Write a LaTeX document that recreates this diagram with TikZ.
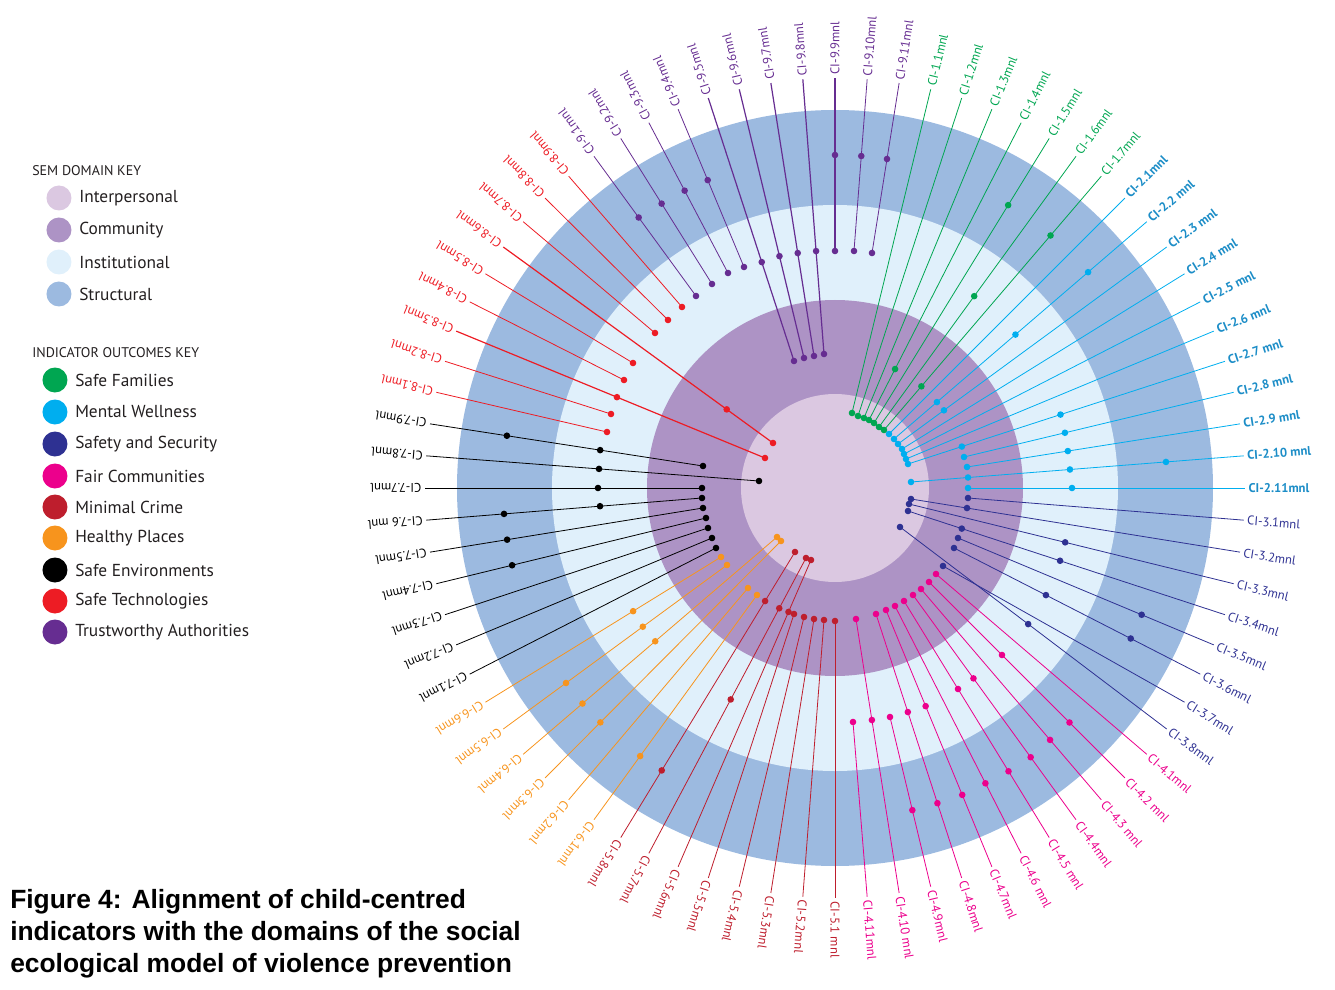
\documentclass[tikz,border=0pt]{standalone}
\usepackage{fontspec}
\setmainfont{PT Sans}
\newfontfamily\capfont{Liberation Sans}
\usetikzlibrary{calc}
\definecolor{semstruct}{RGB}{156,186,224}
\definecolor{seminst}{RGB}{224,240,251}
\definecolor{semcomm}{RGB}{173,147,197}
\definecolor{seminter}{RGB}{219,200,225}
\definecolor{sfgreen}{RGB}{0,166,81}
\definecolor{mwcyan}{RGB}{0,174,239}
\definecolor{mwtext}{RGB}{28,141,199}
\definecolor{ssnavy}{RGB}{46,49,146}
\definecolor{fcmagenta}{RGB}{236,0,140}
\definecolor{mccrimson}{RGB}{190,30,45}
\definecolor{hporange}{RGB}{247,148,29}
\definecolor{stred}{RGB}{237,28,36}
\definecolor{tapurple}{RGB}{102,45,145}
\definecolor{keygray}{RGB}{35,31,32}
\tikzset{
  lbl/.style={anchor=west, inner sep=2.5pt, text=#1, font=\fontsize{9.5}{10}\selectfont},
  link/.style={draw=#1, line width=0.6pt},
  keydot/.style={circle, minimum size=18.75pt, inner sep=0pt, fill=#1},
  keytext/.style={anchor=west, inner sep=0pt, text=keygray, font=\fontsize{13}{15}\selectfont},
  keyhead/.style={anchor=west, inner sep=0pt, text=keygray, font=\fontsize{10.5}{12}\selectfont}
}

\begin{document}
\begin{tikzpicture}[x=0.75pt, y=0.75pt]
    \useasboundingbox (-835,-501) rectangle (500,488);

    \fill[semstruct] (0,0) circle (378);
    \fill[seminst]   (0,0) circle (283);
    \fill[semcomm]   (0,0) circle (188);
    \fill[seminter]  (0,0) circle (94);

    \coordinate (s1-1) at (17,75);
    \coordinate (s1-2) at (23,72);
    \coordinate (s1-3) at (29,70);
    \coordinate (s1-4) at (34,68);
    \coordinate (s1-5) at (39,65);
    \coordinate (s1-6) at (44,61);
    \coordinate (s1-7) at (49,58);
    \node[lbl=sfgreen, rotate=76.5] (l1-1) at (76.5:410) {CI-1.1mnl};
    \node[lbl=sfgreen, rotate=72]   (l1-2) at (72:410)   {CI-1.2mnl};
    \node[lbl=sfgreen, rotate=67.5] (l1-3) at (67.5:410) {CI-1.3mnl};
    \node[lbl=sfgreen, rotate=63]   (l1-4) at (63:410)   {CI-1.4mnl};
    \node[lbl=sfgreen, rotate=58.5] (l1-5) at (58.5:410) {CI-1.5mnl};
    \node[lbl=sfgreen, rotate=54]   (l1-6) at (54:410)   {CI-1.6mnl};
    \node[lbl=sfgreen, rotate=49.5] (l1-7) at (49.5:410) {CI-1.7mnl};
    \draw[link=sfgreen] (s1-1) -- (l1-1.west);
    \draw[link=sfgreen] (s1-2) -- (l1-2.west);
    \draw[link=sfgreen] (s1-3) -- (l1-3.west);
    \draw[link=sfgreen] (s1-4) -- (l1-4.west);
    \draw[link=sfgreen] (s1-5) -- (l1-5.west);
    \draw[link=sfgreen] (s1-6) -- (l1-6.west);
    \draw[link=sfgreen] (s1-7) -- (l1-7.west);

    \coordinate (s2-1) at (54,54);
    \coordinate (s2-2) at (59,49);
    \coordinate (s2-3) at (63,44);
    \coordinate (s2-4) at (67,39);
    \coordinate (s2-5) at (69,34);
    \coordinate (s2-6) at (71,29);
    \coordinate (s2-7) at (73,24);
    \coordinate (s2-8) at (129,31);
    \coordinate (s2-9) at (132,21);
    \coordinate (s2-10) at (76,6);
    \coordinate (s2-11) at (133,0);
    \node[lbl=mwtext, font=\fontsize{9.5}{10}\selectfont\bfseries, rotate=45]   (l2-1) at (45:410)   {CI-2.1mnl};
    \node[lbl=mwtext, font=\fontsize{9.5}{10}\selectfont\bfseries, rotate=40.5] (l2-2) at (40.5:410) {CI-2.2 mnl};
    \node[lbl=mwtext, font=\fontsize{9.5}{10}\selectfont\bfseries, rotate=36]   (l2-3) at (36:410)   {CI-2.3 mnl};
    \node[lbl=mwtext, font=\fontsize{9.5}{10}\selectfont\bfseries, rotate=31.5] (l2-4) at (31.5:410) {CI-2.4 mnl};
    \node[lbl=mwtext, font=\fontsize{9.5}{10}\selectfont\bfseries, rotate=27]   (l2-5) at (27:410)   {CI-2.5 mnl};
    \node[lbl=mwtext, font=\fontsize{9.5}{10}\selectfont\bfseries, rotate=22.5] (l2-6) at (22.5:410) {CI-2.6 mnl};
    \node[lbl=mwtext, font=\fontsize{9.5}{10}\selectfont\bfseries, rotate=18]   (l2-7) at (18:410)   {CI-2.7 mnl};
    \node[lbl=mwtext, font=\fontsize{9.5}{10}\selectfont\bfseries, rotate=13.5] (l2-8) at (13.5:410) {CI-2.8 mnl};
    \node[lbl=mwtext, font=\fontsize{9.5}{10}\selectfont\bfseries, rotate=9]    (l2-9) at (9:410)    {CI-2.9 mnl};
    \node[lbl=mwtext, font=\fontsize{9.5}{10}\selectfont\bfseries, rotate=4.5]  (l2-10) at (4.5:410) {CI-2.10 mnl};
    \node[lbl=mwtext, font=\fontsize{9.5}{10}\selectfont\bfseries, rotate=0]    (l2-11) at (0:410)   {CI-2.11mnl};
    \draw[link=mwcyan] (s2-1) -- (l2-1.west);
    \draw[link=mwcyan] (s2-2) -- (l2-2.west);
    \draw[link=mwcyan] (s2-3) -- (l2-3.west);
    \draw[link=mwcyan] (s2-4) -- (l2-4.west);
    \draw[link=mwcyan] (s2-5) -- (l2-5.west);
    \draw[link=mwcyan] (s2-6) -- (l2-6.west);
    \draw[link=mwcyan] (s2-7) -- (l2-7.west);
    \draw[link=mwcyan] (s2-8) -- (l2-8.west);
    \draw[link=mwcyan] (s2-9) -- (l2-9.west);
    \draw[link=mwcyan] (s2-10) -- (l2-10.west);
    \draw[link=mwcyan] (s2-11) -- (l2-11.west);

    \coordinate (s3-1) at (133,-10);
    \coordinate (s3-2) at (76,-11);
    \coordinate (s3-3) at (74,-16);
    \coordinate (s3-4) at (73,-23);
    \coordinate (s3-5) at (123,-50);
    \coordinate (s3-6) at (119,-60);
    \coordinate (s3-7) at (108,-78);
    \coordinate (s3-8) at (65,-39);
    \node[lbl=ssnavy, rotate=-4.5]  (l3-1) at (-4.5:410)  {CI-3.1mnl};
    \node[lbl=ssnavy, rotate=-9]    (l3-2) at (-9:410)    {CI-3.2mnl};
    \node[lbl=ssnavy, rotate=-13.5] (l3-3) at (-13.5:410) {CI-3.3mnl};
    \node[lbl=ssnavy, rotate=-18]   (l3-4) at (-18:410)   {CI-3.4mnl};
    \node[lbl=ssnavy, rotate=-22.5] (l3-5) at (-22.5:410) {CI-3.5mnl};
    \node[lbl=ssnavy, rotate=-27]   (l3-6) at (-27:410)   {CI-3.6mnl};
    \node[lbl=ssnavy, rotate=-31.5] (l3-7) at (-31.5:410) {CI-3.7mnl};
    \node[lbl=ssnavy, rotate=-36]   (l3-8) at (-36:410)   {CI-3.8mnl};
    \draw[link=ssnavy] (s3-1) -- (l3-1.west);
    \draw[link=ssnavy] (s3-2) -- (l3-2.west);
    \draw[link=ssnavy] (s3-3) -- (l3-3.west);
    \draw[link=ssnavy] (s3-4) -- (l3-4.west);
    \draw[link=ssnavy] (s3-5) -- (l3-5.west);
    \draw[link=ssnavy] (s3-6) -- (l3-6.west);
    \draw[link=ssnavy] (s3-7) -- (l3-7.west);
    \draw[link=ssnavy] (s3-8) -- (l3-8.west);

    \coordinate (s4-1) at (101,-86);
    \coordinate (s4-2) at (94,-94);
    \coordinate (s4-3) at (86,-101);
    \coordinate (s4-4) at (78,-107);
    \coordinate (s4-5) at (69,-113);
    \coordinate (s4-6) at (60,-118);
    \coordinate (s4-7) at (51,-122);
    \coordinate (s4-8) at (41,-126);
    \coordinate (s4-9) at (55,-229);
    \coordinate (s4-10) at (21,-131);
    \coordinate (s4-11) at (18,-234);
    \node[lbl=fcmagenta, rotate=-40.5] (l4-1) at (-40.5:410) {CI-4.1mnl};
    \node[lbl=fcmagenta, rotate=-45]   (l4-2) at (-45:410)   {CI-4.2 mnl};
    \node[lbl=fcmagenta, rotate=-49.5] (l4-3) at (-49.5:410) {CI-4.3 mnl};
    \node[lbl=fcmagenta, rotate=-54]   (l4-4) at (-54:410)   {CI-4.4mnl};
    \node[lbl=fcmagenta, rotate=-58.5] (l4-5) at (-58.5:410) {CI-4.5 mnl};
    \node[lbl=fcmagenta, rotate=-63]   (l4-6) at (-63:410)   {CI-4.6 mnl};
    \node[lbl=fcmagenta, rotate=-67.5] (l4-7) at (-67.5:410) {CI-4.7mnl};
    \node[lbl=fcmagenta, rotate=-72]   (l4-8) at (-72:410)   {CI-4.8mnl};
    \node[lbl=fcmagenta, rotate=-76.5] (l4-9) at (-76.5:410) {CI-4.9mnl};
    \node[lbl=fcmagenta, rotate=-81]   (l4-10) at (-81:410)  {CI-4.10 mnl};
    \node[lbl=fcmagenta, rotate=-85.5] (l4-11) at (-85.5:410) {CI-4.11mnl};
    \draw[link=fcmagenta] (s4-1) -- (l4-1.west);
    \draw[link=fcmagenta] (s4-2) -- (l4-2.west);
    \draw[link=fcmagenta] (s4-3) -- (l4-3.west);
    \draw[link=fcmagenta] (s4-4) -- (l4-4.west);
    \draw[link=fcmagenta] (s4-5) -- (l4-5.west);
    \draw[link=fcmagenta] (s4-6) -- (l4-6.west);
    \draw[link=fcmagenta] (s4-7) -- (l4-7.west);
    \draw[link=fcmagenta] (s4-8) -- (l4-8.west);
    \draw[link=fcmagenta] (s4-9) -- (l4-9.west);
    \draw[link=fcmagenta] (s4-10) -- (l4-10.west);
    \draw[link=fcmagenta] (s4-11) -- (l4-11.west);

    \coordinate (s5-1) at (0,-133);
    \coordinate (s5-2) at (-11,-132);
    \coordinate (s5-3) at (-21,-131);
    \coordinate (s5-4) at (-31,-129);
    \coordinate (s5-5) at (-41,-126);
    \coordinate (s5-6) at (-24,-72);
    \coordinate (s5-7) at (-29,-70);
    \coordinate (s5-8) at (-40,-64);
    \node[lbl=mccrimson, rotate=-90]    (l5-1) at (-90:410)    {CI-5.1 mnl};
    \node[lbl=mccrimson, rotate=-94.5]  (l5-2) at (-94.5:410)  {CI-5.2mnl};
    \node[lbl=mccrimson, rotate=-99]    (l5-3) at (-99:410)    {CI-5.3mnl};
    \node[lbl=mccrimson, rotate=-103.5] (l5-4) at (-103.5:410) {CI-5.4mnl};
    \node[lbl=mccrimson, rotate=-108]   (l5-5) at (-108:410)   {CI-5.5mnl};
    \node[lbl=mccrimson, rotate=-112.5] (l5-6) at (-112.5:410) {CI-5.6mnl};
    \node[lbl=mccrimson, rotate=-117]   (l5-7) at (-117:410)   {CI-5.7mnl};
    \node[lbl=mccrimson, rotate=-121.5] (l5-8) at (-121.5:410) {CI-5.8mnl};
    \draw[link=mccrimson] (s5-1) -- (l5-1.west);
    \draw[link=mccrimson] (s5-2) -- (l5-2.west);
    \draw[link=mccrimson] (s5-3) -- (l5-3.west);
    \draw[link=mccrimson] (s5-4) -- (l5-4.west);
    \draw[link=mccrimson] (s5-5) -- (l5-5.west);
    \draw[link=mccrimson] (s5-6) -- (l5-6.west);
    \draw[link=mccrimson] (s5-7) -- (l5-7.west);
    \draw[link=mccrimson] (s5-8) -- (l5-8.west);

    \coordinate (s6-1) at (-78,-107);
    \coordinate (s6-2) at (-87,-100);
    \coordinate (s6-3) at (-54,-53);
    \coordinate (s6-4) at (-58,-49);
    \coordinate (s6-5) at (-108,-77);
    \coordinate (s6-6) at (-114,-69);
    \node[lbl=hporange, rotate=234]   (l6-1) at (234:410)   {CI-6.1mnl};
    \node[lbl=hporange, rotate=229.5] (l6-2) at (229.5:410) {CI-6.2mnl};
    \node[lbl=hporange, rotate=225]   (l6-3) at (225:410)   {CI-6.3mnl};
    \node[lbl=hporange, rotate=220.5] (l6-4) at (220.5:410) {CI-6.4mnl};
    \node[lbl=hporange, rotate=216]   (l6-5) at (216:410)   {CI-6.5mnl};
    \node[lbl=hporange, rotate=211.5] (l6-6) at (211.5:410) {CI-6.6mnl};
    \draw[link=hporange] (s6-1) -- (l6-1.west);
    \draw[link=hporange] (s6-2) -- (l6-2.west);
    \draw[link=hporange] (s6-3) -- (l6-3.west);
    \draw[link=hporange] (s6-4) -- (l6-4.west);
    \draw[link=hporange] (s6-5) -- (l6-5.west);
    \draw[link=hporange] (s6-6) -- (l6-6.west);

    \coordinate (s7-1) at (-119,-60);
    \coordinate (s7-2) at (-123,-50);
    \coordinate (s7-3) at (-127,-40);
    \coordinate (s7-4) at (-129,-30);
    \coordinate (s7-5) at (-132,-20);
    \coordinate (s7-6) at (-133,-10);
    \coordinate (s7-7) at (-133,0);
    \coordinate (s7-8) at (-76,7);
    \coordinate (s7-9) at (-132,22);
    \node[lbl=black, rotate=207]   (l7-1) at (207:410)   {CI-7.1mnl};
    \node[lbl=black, rotate=202.5] (l7-2) at (202.5:410) {CI-7.2mnl};
    \node[lbl=black, rotate=198]   (l7-3) at (198:410)   {CI-7.3mnl};
    \node[lbl=black, rotate=193.5] (l7-4) at (193.5:410) {CI-7.4mnl};
    \node[lbl=black, rotate=189]   (l7-5) at (189:410)   {CI-7.5mnl};
    \node[lbl=black, rotate=184.5] (l7-6) at (184.5:410) {CI-7.6 mnl};
    \node[lbl=black, rotate=180]   (l7-7) at (180:410)   {CI-7.7mnl};
    \node[lbl=black, rotate=175.5] (l7-8) at (175.5:410) {CI-7.8mnl};
    \node[lbl=black, rotate=171]   (l7-9) at (171:410)   {CI-7.9mnl};
    \draw[link=black] (s7-1) -- (l7-1.west);
    \draw[link=black] (s7-2) -- (l7-2.west);
    \draw[link=black] (s7-3) -- (l7-3.west);
    \draw[link=black] (s7-4) -- (l7-4.west);
    \draw[link=black] (s7-5) -- (l7-5.west);
    \draw[link=black] (s7-6) -- (l7-6.west);
    \draw[link=black] (s7-7) -- (l7-7.west);
    \draw[link=black] (s7-8) -- (l7-8.west);
    \draw[link=black] (s7-9) -- (l7-9.west);

    \coordinate (s8-1) at (-228,56);
    \coordinate (s8-2) at (-224,74);
    \coordinate (s8-3) at (-70,30);
    \coordinate (s8-4) at (-211,108);
    \coordinate (s8-5) at (-202,125);
    \coordinate (s8-6) at (-62,45);
    \coordinate (s8-7) at (-180,155);
    \coordinate (s8-8) at (-167,168);
    \coordinate (s8-9) at (-153,181);
    \node[lbl=stred, rotate=166.5] (l8-1) at (166.5:410) {CI-8.1mnl};
    \node[lbl=stred, rotate=162]   (l8-2) at (162:410)   {CI-8.2mnl};
    \node[lbl=stred, rotate=157.5] (l8-3) at (157.5:410) {CI-8.3mnl};
    \node[lbl=stred, rotate=153]   (l8-4) at (153:410)   {CI-8.4mnl};
    \node[lbl=stred, rotate=148.5] (l8-5) at (148.5:410) {CI-8.5mnl};
    \node[lbl=stred, rotate=144]   (l8-6) at (144:410)   {CI-8.6mnl};
    \node[lbl=stred, rotate=139.5] (l8-7) at (139.5:410) {CI-8.7mnl};
    \node[lbl=stred, rotate=135]   (l8-8) at (135:410)   {CI-8.8mnl};
    \node[lbl=stred, rotate=130.5] (l8-9) at (130.5:410) {CI-8.9mnl};
    \draw[link=stred] (s8-1) -- (l8-1.west);
    \draw[link=stred] (s8-2) -- (l8-2.west);
    \draw[link=stred, line width=0.9pt] (s8-3) -- (l8-3.west);
    \draw[link=stred] (s8-4) -- (l8-4.west);
    \draw[link=stred] (s8-5) -- (l8-5.west);
    \draw[link=stred, line width=0.9pt] (s8-6) -- (l8-6.west);
    \draw[link=stred] (s8-7) -- (l8-7.west);
    \draw[link=stred] (s8-8) -- (l8-8.west);
    \draw[link=stred] (s8-9) -- (l8-9.west);

    \coordinate (s9-1) at (-139,192);
    \coordinate (s9-2) at (-123,204);
    \coordinate (s9-3) at (-107,215);
    \coordinate (s9-4) at (-91,221);
    \coordinate (s9-5) at (-41,127);
    \coordinate (s9-6) at (-31,130);
    \coordinate (s9-7) at (-21,132);
    \coordinate (s9-8) at (-11,134);
    \coordinate (s9-9) at (0,237);
    \coordinate (s9-10) at (19,237);
    \coordinate (s9-11) at (37,235);
    \node[lbl=tapurple, rotate=126]   (l9-1) at (126:410)   {CI-9.1mnl};
    \node[lbl=tapurple, rotate=121.5] (l9-2) at (121.5:410) {CI-9.2mnl};
    \node[lbl=tapurple, rotate=117]   (l9-3) at (117:410)   {CI-9.3mnl};
    \node[lbl=tapurple, rotate=112.5] (l9-4) at (112.5:410) {CI-9.4mnl};
    \node[lbl=tapurple, rotate=108]   (l9-5) at (108:410)   {CI-9.5mnl};
    \node[lbl=tapurple, rotate=103.5] (l9-6) at (103.5:410) {CI-9.6mnl};
    \node[lbl=tapurple, rotate=99]    (l9-7) at (99:410)    {CI-9.7mnl};
    \node[lbl=tapurple, rotate=94.5]  (l9-8) at (94.5:410)  {CI-9.8mnl};
    \node[lbl=tapurple, rotate=90]    (l9-9) at (90:410)    {CI-9.9mnl};
    \node[lbl=tapurple, rotate=85.5]  (l9-10) at (85.5:410) {CI-9.10mnl};
    \node[lbl=tapurple, rotate=81]    (l9-11) at (81:410)   {CI-9.11mnl};
    \draw[link=tapurple] (s9-1) -- (l9-1.west);
    \draw[link=tapurple] (s9-2) -- (l9-2.west);
    \draw[link=tapurple] (s9-3) -- (l9-3.west);
    \draw[link=tapurple] (s9-4) -- (l9-4.west);
    \draw[link=tapurple, line width=0.9pt] (s9-5) -- (l9-5.west);
    \draw[link=tapurple, line width=0.9pt] (s9-6) -- (l9-6.west);
    \draw[link=tapurple, line width=0.9pt] (s9-7) -- (l9-7.west);
    \draw[link=tapurple, line width=0.9pt] (s9-8) -- (l9-8.west);
    \draw[link=tapurple, line width=0.9pt] (s9-9) -- (l9-9.west);
    \draw[link=tapurple] (s9-10) -- (l9-10.west);
    \draw[link=tapurple] (s9-11) -- (l9-11.west);

    % dots
    \fill[sfgreen] (s1-1) circle (3.3) (s1-2) circle (3.3) (s1-3) circle (3.3) (s1-4) circle (3.3)
        (s1-5) circle (3.3) (s1-6) circle (3.3) (s1-7) circle (3.3);
    \fill[sfgreen] ($(s1-4)!(60,119)!(l1-4.west)$) circle (3.3)
        ($(s1-5)!(173,283)!(l1-5.west)$) circle (3.3)
        ($(s1-6)!(139,192)!(l1-6.west)$) circle (3.3)
        ($(s1-7)!(86,102)!(l1-7.west)$) circle (3.3)
        ($(s1-7)!(215,253)!(l1-7.west)$) circle (3.3);

    \fill[mwcyan] (s2-1) circle (3.3) (s2-2) circle (3.3) (s2-3) circle (3.3) (s2-4) circle (3.3)
        (s2-5) circle (3.3) (s2-6) circle (3.3) (s2-7) circle (3.3) (s2-8) circle (3.3)
        (s2-9) circle (3.3) (s2-10) circle (3.3) (s2-11) circle (3.3);
    \fill[mwcyan] ($(s2-2)!(101,87)!(l2-2.west)$) circle (3.3)
        ($(s2-2)!(180,154)!(l2-2.west)$) circle (3.3)
        ($(s2-2)!(253,216)!(l2-2.west)$) circle (3.3)
        ($(s2-3)!(108,79)!(l2-3.west)$) circle (3.3)
        ($(s2-7)!(127,41)!(l2-7.west)$) circle (3.3)
        ($(s2-7)!(225,75)!(l2-7.west)$) circle (3.3)
        ($(s2-8)!(230,55)!(l2-8.west)$) circle (3.3)
        ($(s2-9)!(233,36)!(l2-9.west)$) circle (3.3)
        ($(s2-10)!(133,11)!(l2-10.west)$) circle (3.3)
        ($(s2-10)!(235,18)!(l2-10.west)$) circle (3.3)
        ($(s2-10)!(331,26)!(l2-10.west)$) circle (3.3)
        ($(s2-11)!(237,0)!(l2-11.west)$) circle (3.3);

    \fill[ssnavy] (s3-1) circle (3.3) (s3-2) circle (3.3) (s3-3) circle (3.3) (s3-4) circle (3.3)
        (s3-5) circle (3.3) (s3-6) circle (3.3) (s3-7) circle (3.3) (s3-8) circle (3.3);
    \fill[ssnavy] ($(s3-2)!(132,-20)!(l3-2.west)$) circle (3.3)
        ($(s3-3)!(230,-55)!(l3-3.west)$) circle (3.3)
        ($(s3-4)!(127,-40)!(l3-4.west)$) circle (3.3)
        ($(s3-4)!(225,-73)!(l3-4.west)$) circle (3.3)
        ($(s3-5)!(307,-126)!(l3-5.west)$) circle (3.3)
        ($(s3-6)!(211,-107)!(l3-6.west)$) circle (3.3)
        ($(s3-6)!(296,-150)!(l3-6.west)$) circle (3.3)
        ($(s3-8)!(191,-139)!(l3-8.west)$) circle (3.3);

    \fill[fcmagenta] (s4-1) circle (3.3) (s4-2) circle (3.3) (s4-3) circle (3.3) (s4-4) circle (3.3)
        (s4-5) circle (3.3) (s4-6) circle (3.3) (s4-7) circle (3.3) (s4-8) circle (3.3)
        (s4-9) circle (3.3) (s4-10) circle (3.3) (s4-11) circle (3.3);
    \fill[fcmagenta] ($(s4-2)!(167,-167)!(l4-2.west)$) circle (3.3)
        ($(s4-2)!(235,-234)!(l4-2.west)$) circle (3.3)
        ($(s4-3)!(215,-252)!(l4-3.west)$) circle (3.3)
        ($(s4-4)!(139,-190)!(l4-4.west)$) circle (3.3)
        ($(s4-4)!(196,-269)!(l4-4.west)$) circle (3.3)
        ($(s4-5)!(123,-201)!(l4-5.west)$) circle (3.3)
        ($(s4-5)!(174,-283)!(l4-5.west)$) circle (3.3)
        ($(s4-6)!(151,-295)!(l4-6.west)$) circle (3.3)
        ($(s4-7)!(91,-218)!(l4-7.west)$) circle (3.3)
        ($(s4-7)!(127,-307)!(l4-7.west)$) circle (3.3)
        ($(s4-8)!(73,-224)!(l4-8.west)$) circle (3.3)
        ($(s4-8)!(103,-315)!(l4-8.west)$) circle (3.3)
        ($(s4-9)!(78,-322)!(l4-9.west)$) circle (3.3)
        ($(s4-10)!(37,-232)!(l4-10.west)$) circle (3.3);

    \fill[mccrimson] (s5-1) circle (3.3) (s5-2) circle (3.3) (s5-3) circle (3.3) (s5-4) circle (3.3)
        (s5-5) circle (3.3) (s5-6) circle (3.3) (s5-7) circle (3.3) (s5-8) circle (3.3);
    \fill[mccrimson] ($(s5-6)!(-51,-122)!(l5-6.west)$) circle (3.3)
        ($(s5-7)!(-60,-118)!(l5-7.west)$) circle (3.3)
        ($(s5-7)!(-107,-210)!(l5-7.west)$) circle (3.3)
        ($(s5-8)!(-70,-113)!(l5-8.west)$) circle (3.3)
        ($(s5-8)!(-174,-282)!(l5-8.west)$) circle (3.3);

    \fill[hporange] (s6-1) circle (3.3) (s6-2) circle (3.3) (s6-3) circle (3.3) (s6-4) circle (3.3)
        (s6-5) circle (3.3) (s6-6) circle (3.3);
    \fill[hporange] ($(s6-1)!(-195,-268)!(l6-1.west)$) circle (3.3)
        ($(s6-3)!(-235,-234)!(l6-3.west)$) circle (3.3)
        ($(s6-4)!(-180,-153)!(l6-4.west)$) circle (3.3)
        ($(s6-4)!(-253,-215)!(l6-4.west)$) circle (3.3)
        ($(s6-5)!(-192,-139)!(l6-5.west)$) circle (3.3)
        ($(s6-5)!(-269,-195)!(l6-5.west)$) circle (3.3)
        ($(s6-6)!(-202,-123)!(l6-6.west)$) circle (3.3);

    \fill[black] (s7-1) circle (3.3) (s7-2) circle (3.3) (s7-3) circle (3.3) (s7-4) circle (3.3)
        (s7-5) circle (3.3) (s7-6) circle (3.3) (s7-7) circle (3.3) (s7-8) circle (3.3) (s7-9) circle (3.3);
    \fill[black] ($(s7-4)!(-323,-77)!(l7-4.west)$) circle (3.3)
        ($(s7-5)!(-328,-51)!(l7-5.west)$) circle (3.3)
        ($(s7-6)!(-235,-18)!(l7-6.west)$) circle (3.3)
        ($(s7-6)!(-331,-26)!(l7-6.west)$) circle (3.3)
        ($(s7-7)!(-237,0)!(l7-7.west)$) circle (3.3)
        ($(s7-8)!(-236,19)!(l7-8.west)$) circle (3.3)
        ($(s7-9)!(-235,37)!(l7-9.west)$) circle (3.3)
        ($(s7-9)!(-328,53)!(l7-9.west)$) circle (3.3);

    \fill[stred] (s8-1) circle (3.3) (s8-2) circle (3.3) (s8-3) circle (3.3) (s8-4) circle (3.3)
        (s8-5) circle (3.3) (s8-6) circle (3.3) (s8-7) circle (3.3) (s8-8) circle (3.3) (s8-9) circle (3.3);
    \fill[stred] ($(s8-3)!(-218,91)!(l8-3.west)$) circle (3.3)
        ($(s8-6)!(-108,79)!(l8-6.west)$) circle (3.3);

    \fill[tapurple] (s9-1) circle (3.3) (s9-2) circle (3.3) (s9-3) circle (3.3) (s9-4) circle (3.3)
        (s9-5) circle (3.3) (s9-6) circle (3.3) (s9-7) circle (3.3) (s9-8) circle (3.3)
        (s9-9) circle (3.3) (s9-10) circle (3.3) (s9-11) circle (3.3);
    \fill[tapurple] ($(s9-1)!(-197,270)!(l9-1.west)$) circle (3.3)
        ($(s9-2)!(-174,284)!(l9-2.west)$) circle (3.3)
        ($(s9-3)!(-151,297)!(l9-3.west)$) circle (3.3)
        ($(s9-4)!(-127,308)!(l9-4.west)$) circle (3.3)
        ($(s9-5)!(-73,226)!(l9-5.west)$) circle (3.3)
        ($(s9-6)!(-55,232)!(l9-6.west)$) circle (3.3)
        ($(s9-7)!(-37,235)!(l9-7.west)$) circle (3.3)
        ($(s9-8)!(-18,237)!(l9-8.west)$) circle (3.3)
        ($(s9-9)!(0,333)!(l9-9.west)$) circle (3.3)
        ($(s9-10)!(26,332)!(l9-10.west)$) circle (3.3)
        ($(s9-11)!(52,329)!(l9-11.west)$) circle (3.3);

    % keys
    \node[keyhead] (semhead) at (-803,317) {SEM DOMAIN KEY};
    \node[keydot=seminter]  (kd1) at (-776,290) {};
    \node[keydot=semcomm]   (kd2) at (-776,258) {};
    \node[keydot=seminst]   (kd3) at (-776,226) {};
    \node[keydot=semstruct] (kd4) at (-776,194) {};
    \node[keytext] (kt1) at (-756,290) {Interpersonal};
    \node[keytext] (kt2) at (-756,258) {Community};
    \node[keytext] (kt3) at (-756,226) {Institutional};
    \node[keytext] (kt4) at (-756,194) {Structural};

    \node[keyhead] (outhead) at (-803,135) {INDICATOR OUTCOMES KEY};
    \node[keydot=sfgreen]   (ko1) at (-780,108) {};
    \node[keydot=mwcyan]    (ko2) at (-780,76) {};
    \node[keydot=ssnavy]    (ko3) at (-780,44) {};
    \node[keydot=fcmagenta] (ko4) at (-780,12) {};
    \node[keydot=mccrimson] (ko5) at (-780,-19) {};
    \node[keydot=hporange]  (ko6) at (-780,-50) {};
    \node[keydot=black]     (ko7) at (-780,-82) {};
    \node[keydot=stred]     (ko8) at (-780,-113) {};
    \node[keydot=tapurple]  (ko9) at (-780,-144) {};
    \node[keytext] (ot1) at (-760,108) {Safe Families};
    \node[keytext] (ot2) at (-760,76) {Mental Wellness};
    \node[keytext] (ot3) at (-760,44) {Safety and Security};
    \node[keytext] (ot4) at (-760,12) {Fair Communities};
    \node[keytext] (ot5) at (-760,-19) {Minimal Crime};
    \node[keytext] (ot6) at (-760,-50) {Healthy Places};
    \node[keytext] (ot7) at (-760,-82) {Safe Environments};
    \node[keytext] (ot8) at (-760,-113) {Safe Technologies};
    \node[keytext] (ot9) at (-760,-144) {Trustworthy Authorities};

    \node[anchor=north west, inner sep=0pt, align=left,
          font=\capfont\bfseries\fontsize{19.8}{24}\selectfont] (caption) at (-825,-401)
        {Figure 4: Alignment of child-centred\\indicators with the domains of the social\\ecological model of violence prevention};
\end{tikzpicture}
\end{document}
